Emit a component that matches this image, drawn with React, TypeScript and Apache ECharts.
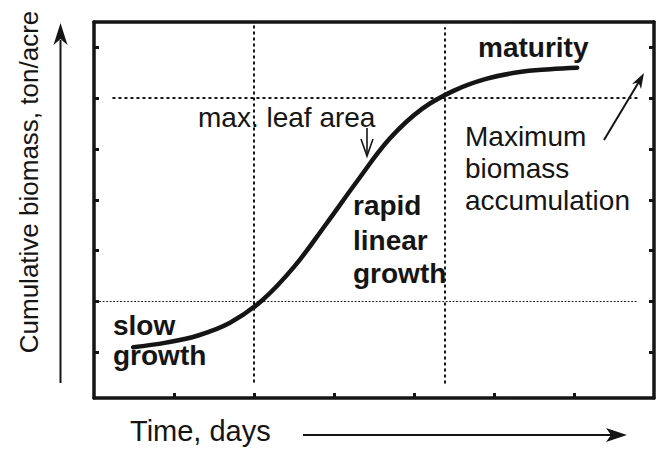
import React, { useEffect, useRef } from "react";
import * as echarts from "echarts";

// Growth curve (x: time in tick units, y: biomass in tick units)
const timeValues = [0.49, 0.9, 1.3, 1.7, 2.1, 2.5, 2.9, 3.3, 3.7, 4.1, 4.5, 4.9, 5.3, 5.7, 6.04];
const biomassValues = [0.1, 0.19, 0.33, 0.58, 1.02, 1.68, 2.52, 3.39, 4.21, 4.79, 5.15, 5.38, 5.51, 5.57, 5.6];

// Axis tick positions
const xTicks = [1, 2, 3, 4, 5, 6];
const yTicks = [0, 1, 2, 3, 4, 5, 6];

// Reference (dotted) lines
const refX = [2, 4.39];
const refY = [1, 5];

const FONT = '"Liberation Sans", Arial, Helvetica, sans-serif';
const INK = "#151515";

export default function App() {
  const ref = useRef<HTMLDivElement>(null);

  useEffect(() => {
    if (!ref.current) return;
    const chart = echarts.init(ref.current, undefined, { renderer: "svg" });

    const curve = timeValues.map((t, i) => [t, biomassValues[i]]);

    const dotted = (w: number, dash: number[]) => ({
      color: INK,
      width: w,
      type: dash,
      cap: "round",
    });

    const option: any = {
      animation: false,
      backgroundColor: "#ffffff",
      grid: { left: 94, top: 22, right: 8, bottom: 51, containLabel: false },
      xAxis: [
        {
          type: "value",
          position: "bottom",
          min: 0,
          max: 7,
          axisLine: { show: true, onZero: false, lineStyle: { color: INK, width: 3.5 } },
          axisTick: { show: true, inside: true, length: 5, customValues: xTicks, lineStyle: { color: INK, width: 3 } },
          axisLabel: { show: false },
          splitLine: { show: false },
        },
        {
          type: "value",
          position: "top",
          min: 0,
          max: 7,
          axisLine: { show: true, onZero: false, lineStyle: { color: INK, width: 3.5 } },
          axisTick: { show: false },
          axisLabel: { show: false },
          splitLine: { show: false },
        },
      ],
      yAxis: [
        {
          type: "value",
          position: "left",
          min: -0.9,
          max: 6.5,
          axisLine: { show: true, onZero: false, lineStyle: { color: INK, width: 3.5 } },
          axisTick: { show: true, inside: true, length: 5, customValues: yTicks, lineStyle: { color: INK, width: 3 } },
          axisLabel: { show: false },
          splitLine: { show: false },
        },
        {
          type: "value",
          position: "right",
          min: -0.9,
          max: 6.5,
          axisLine: { show: true, onZero: false, lineStyle: { color: INK, width: 3.5 } },
          axisTick: { show: true, inside: true, length: 5, customValues: yTicks, lineStyle: { color: INK, width: 3 } },
          axisLabel: { show: false },
          splitLine: { show: false },
        },
      ],
      series: [
        {
          type: "line",
          xAxisIndex: 0,
          yAxisIndex: 0,
          data: curve,
          showSymbol: false,
          smooth: 0.4,
          lineStyle: { color: INK, width: 4.5, cap: "round" },
          z: 5,
          markLine: {
            silent: true,
            symbol: ["none", "none"],
            label: { show: false },
            z: 2,
            data: [
              [
                { coord: [refX[0], -0.58], lineStyle: dotted(2, [1.5, 4.5]) },
                { coord: [refX[0], 6.5] },
              ],
              [
                { coord: [refX[1], -0.6], lineStyle: dotted(2, [1.5, 4.5]) },
                { coord: [refX[1], 6.38] },
              ],
              [
                { coord: [0.24, refY[1]], lineStyle: dotted(2, [1.5, 4.5]) },
                { coord: [6.79, refY[1]] },
              ],
              [
                { coord: [0.07, refY[0]], lineStyle: dotted(1, [1, 2.5]) },
                { coord: [6.79, refY[0]] },
              ],
            ],
          },
        },
      ],
      graphic: [
        // Y axis title and arrow
        {
          type: "text",
          x: 29,
          y: 182,
          rotation: Math.PI / 2,
          style: { text: "Cumulative biomass, ton/acre", font: `26px ${FONT}`, fill: INK, align: "center", verticalAlign: "middle" },
        },
        { type: "line", shape: { x1: 60.5, y1: 40, x2: 60.5, y2: 383 }, style: { stroke: INK, lineWidth: 2 } },
        { type: "polygon", shape: { points: [[60.5, 23], [67.5, 45], [60.5, 39], [53.5, 45]] }, style: { fill: INK } },
        // X axis title and arrow
        {
          type: "text",
          x: 130,
          y: 431,
          style: { text: "Time, days", font: `29px ${FONT}`, fill: INK, align: "left", verticalAlign: "middle" },
        },
        { type: "line", shape: { x1: 303, y1: 435, x2: 622, y2: 435 }, style: { stroke: INK, lineWidth: 2 } },
        { type: "polygon", shape: { points: [[627, 435], [606, 428], [611, 435], [606, 442]] }, style: { fill: INK } },
        // Annotations
        {
          type: "text",
          x: 198,
          y: 117,
          style: { text: "max. leaf area", font: `28px ${FONT}`, fill: INK, align: "left", verticalAlign: "middle" },
        },
        { type: "line", shape: { x1: 367, y1: 128, x2: 367, y2: 155 }, style: { stroke: INK, lineWidth: 1.6 } },
        { type: "polyline", shape: { points: [[361, 139], [367, 156], [373, 139]] }, style: { stroke: INK, lineWidth: 1.6, fill: null } },
        {
          type: "text",
          x: 478,
          y: 47,
          style: { text: "maturity", font: `bold 28px ${FONT}`, fill: INK, align: "left", verticalAlign: "middle" },
        },
        {
          type: "text",
          x: 465,
          y: 136,
          style: { text: "Maximum", font: `28px ${FONT}`, fill: INK, align: "left", verticalAlign: "middle" },
        },
        {
          type: "text",
          x: 465,
          y: 168,
          style: { text: "biomass", font: `28px ${FONT}`, fill: INK, align: "left", verticalAlign: "middle" },
        },
        {
          type: "text",
          x: 465,
          y: 200,
          style: { text: "accumulation", font: `28px ${FONT}`, fill: INK, align: "left", verticalAlign: "middle" },
        },
        { type: "line", shape: { x1: 604, y1: 140, x2: 640, y2: 80 }, style: { stroke: INK, lineWidth: 2 } },
        { type: "polygon", shape: { points: [[644, 73], [641, 89], [638.5, 82.5], [632, 84]] }, style: { fill: INK } },
        {
          type: "text",
          x: 353,
          y: 205,
          style: { text: "rapid", font: `bold 28px ${FONT}`, fill: INK, align: "left", verticalAlign: "middle" },
        },
        {
          type: "text",
          x: 353,
          y: 240,
          style: { text: "linear", font: `bold 28px ${FONT}`, fill: INK, align: "left", verticalAlign: "middle" },
        },
        {
          type: "text",
          x: 353,
          y: 273,
          style: { text: "growth", font: `bold 28px ${FONT}`, fill: INK, align: "left", verticalAlign: "middle" },
        },
        {
          type: "text",
          x: 113,
          y: 325,
          style: { text: "slow", font: `bold 28px ${FONT}`, fill: INK, align: "left", verticalAlign: "middle" },
        },
        {
          type: "text",
          x: 113,
          y: 355,
          style: { text: "growth", font: `bold 28px ${FONT}`, fill: INK, align: "left", verticalAlign: "middle" },
        },
      ],
    };

    chart.setOption(option);
    return () => chart.dispose();
  }, []);

  return (
    <div
      ref={ref}
      style={{ position: "fixed", left: 0, top: 0, width: 662, height: 449, background: "#fff" }}
    />
  );
}
